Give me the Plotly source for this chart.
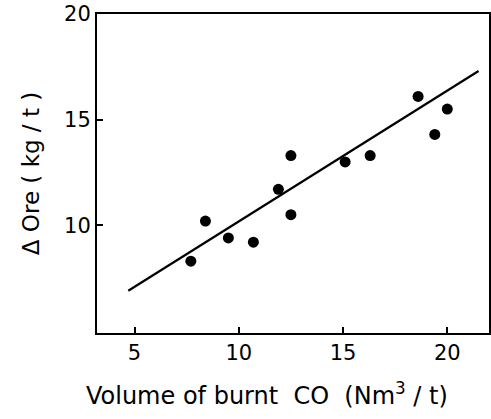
import plotly.graph_objects as go

# Data
burnt_co = [7.7, 8.4, 9.5, 10.7, 11.9, 12.5, 12.5, 15.1, 16.3, 18.6, 19.4, 20.0]
delta_ore = [8.3, 10.2, 9.4, 9.2, 11.7, 13.3, 10.5, 13.0, 13.3, 16.1, 14.3, 15.5]

fit_x = [4.7, 21.5]
fit_y = [6.9, 17.3]

x_ticks = [5, 10, 15, 20]
y_ticks = [10, 15, 20]

x_title = "Volume of burnt  CO  (Nm<sup>3</sup> / t)"
y_title = "Δ Ore ( kg / t )"

fig = go.Figure()
fig.add_trace(go.Scatter(x=fit_x, y=fit_y, mode="lines",
                         line=dict(color="black", width=2.2), showlegend=False))
fig.add_trace(go.Scatter(x=burnt_co, y=delta_ore, mode="markers",
                         marker=dict(color="black", size=11), showlegend=False))

fig.update_layout(
    width=491, height=419,
    margin=dict(l=97, r=0, t=14, b=86),
    paper_bgcolor="white", plot_bgcolor="white",
    font=dict(family="DejaVu Sans", size=21, color="black"),
    xaxis=dict(range=[3.2, 22.0], tickvals=x_ticks, ticks="inside", ticklen=6,
               tickwidth=1.5, tickcolor="black", showline=True, linecolor="black",
               linewidth=2, mirror=True, showgrid=False, zeroline=False,
               tickfont=dict(size=21)),
    yaxis=dict(range=[4.9, 20.0], tickvals=y_ticks, ticks="inside", ticklen=6,
               tickwidth=1.5, tickcolor="black", showline=True, linecolor="black",
               linewidth=2, mirror=True, showgrid=False, zeroline=False,
               tickfont=dict(size=21),
               title=dict(text=y_title, font=dict(size=23), standoff=18)),
    annotations=[dict(text=x_title, xref="paper", yref="paper", x=0.434, y=-0.19,
                      xanchor="center", yanchor="middle", showarrow=False,
                      font=dict(size=24))],
)

fig.write_html("out.html")
